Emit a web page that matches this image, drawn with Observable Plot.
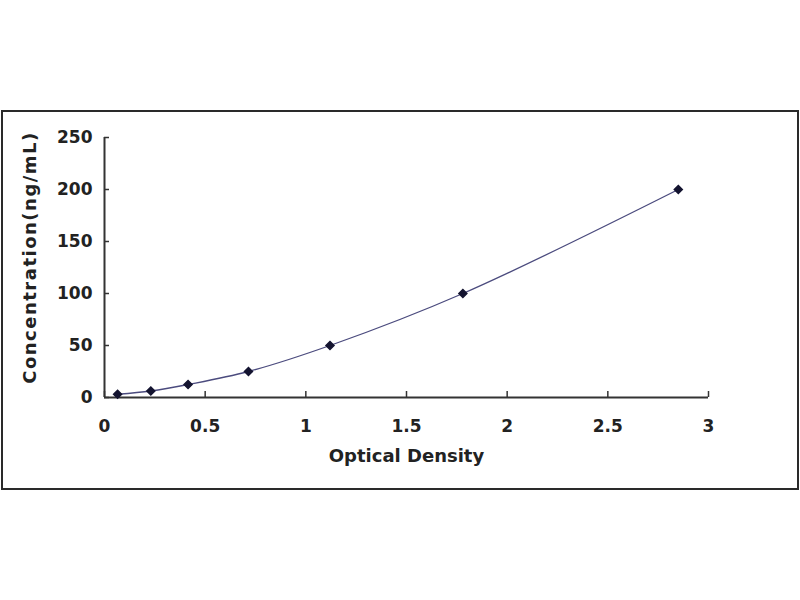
<!DOCTYPE html>
<html>
<head>
<meta charset="utf-8">
<script src="https://cdn.jsdelivr.net/npm/d3@7"></script>
<script src="https://cdn.jsdelivr.net/npm/@observablehq/plot@0.6"></script>
<style>
  html, body { margin: 0; padding: 0; background: #fff; }
  #wrap { position: relative; width: 800px; height: 600px; overflow: hidden; }
  #box { position: absolute; left: 1px; top: 110px; width: 794px; height: 376px; border: 2px solid #2a2a2a; pointer-events: none; }
  svg { font-family: "DejaVu Sans", sans-serif; }
</style>
</head>
<body>
<div id="wrap"><div id="box"></div></div>
<script>
const od = [0.065, 0.23, 0.415, 0.715, 1.12, 1.78, 2.85];
const conc = [3.125, 6.25, 12.5, 25, 50, 100, 200];
const xTicks = [0, 0.5, 1, 1.5, 2, 2.5, 3];
const yTicks = [0, 50, 100, 150, 200, 250];
const xTitle = "Optical Density";
const yTitle = "Concentration(ng/mL)";

const data = od.map((x, i) => ({x, y: conc[i]}));

const chart = Plot.plot({
  width: 800,
  height: 600,
  marginLeft: 104,
  marginRight: 92,
  marginTop: 137,
  marginBottom: 203,
  style: {fontFamily: "DejaVu Sans, sans-serif", fontWeight: "bold", fontSize: "17px", color: "#222", background: "transparent"},
  x: {domain: [0, 3]},
  y: {domain: [0, 250]},
  marks: [
    Plot.ruleX([0], {stroke: "#333", strokeWidth: 2}),
    Plot.ruleY([0], {stroke: "#333", strokeWidth: 2}),
    Plot.axisX({ticks: xTicks, tickSize: -6, tickPadding: 28, tickFormat: d => String(d), label: null, stroke: "#333", strokeWidth: 1.5, fill: "#222", fontSize: 17, fontWeight: "bold"}),
    Plot.axisY({ticks: yTicks, tickSize: -5, tickPadding: 17, tickFormat: d => String(d), label: null, stroke: "#333", strokeWidth: 1.5, fill: "#222", fontSize: 17, fontWeight: "bold"}),
    Plot.line(data, {x: "x", y: "y", curve: "catmull-rom", stroke: "#4b4b7e", strokeWidth: 1.3}),
    Plot.dot(data, {x: "x", y: "y", symbol: "diamond2", r: 3.6, fill: "#141430", stroke: "#141430"}),
    Plot.text([xTitle], {frameAnchor: "bottom", dy: 64, text: d => d, fontSize: 18, fontWeight: "bold", fill: "#222"}),
    Plot.text([yTitle], {frameAnchor: "left", dx: -74, dy: -10, rotate: -90, textAnchor: "middle", text: d => d, fontSize: 18, fontWeight: "bold", fill: "#222"})
  ]
});
chart.querySelectorAll("text").forEach(t => { if (t.textContent === yTitle) t.style.letterSpacing = "1.5px"; });
document.getElementById("wrap").insertBefore(chart, document.getElementById("box"));
</script>
</body>
</html>
